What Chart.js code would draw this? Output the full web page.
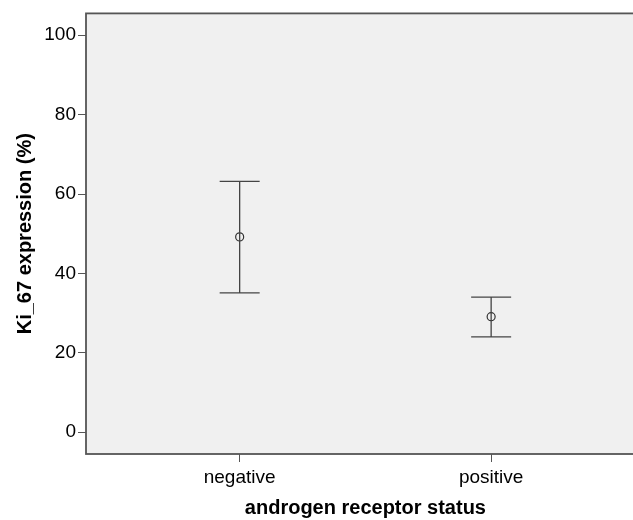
<!DOCTYPE html>
<html>
<head>
<meta charset="utf-8">
<script src="https://cdn.jsdelivr.net/npm/chart.js@4"></script>
<style>
  html, body { margin: 0; padding: 0; background: #fff; }
  #wrap { width: 633px; height: 520px; overflow: hidden; }
  #box { width: 650px; height: 520px; }
</style>
</head>
<body>
<div id="wrap"><div id="box"><canvas id="chart"></canvas></div></div>
<script>
const groups = ["negative", "positive"];
const means = [49.2, 29.1];
const upper = [63.2, 34.0];
const lower = [35.1, 24.0];
const yTicks = [0, 20, 40, 60, 80, 100];

const lineColor = "#444";

// plot background + frame
const frame = {
  id: "frame",
  beforeDraw(chart) {
    const { ctx, chartArea: a } = chart;
    ctx.save();
    ctx.fillStyle = "#f0f0f0";
    ctx.fillRect(a.left, a.top, a.right - a.left, a.bottom - a.top);
    ctx.strokeStyle = "#555";
    ctx.lineWidth = 1.8;
    ctx.strokeRect(a.left, a.top, a.right - a.left, a.bottom - a.top);
    ctx.restore();
  },
};

// error bars from the upper / lower arrays
const errorBars = {
  id: "errorBars",
  afterDatasetsDraw(chart) {
    const { ctx, scales } = chart;
    const x = scales.x, y = scales.y;
    ctx.save();
    ctx.strokeStyle = lineColor;
    ctx.lineWidth = 1.3;
    groups.forEach((g, i) => {
      const px = x.getPixelForValue(i + 1);
      const top = y.getPixelForValue(upper[i]);
      const bot = y.getPixelForValue(lower[i]);
      const cap = 20;
      ctx.beginPath();
      ctx.moveTo(px, top);
      ctx.lineTo(px, bot);
      ctx.moveTo(px - cap, top);
      ctx.lineTo(px + cap, top);
      ctx.moveTo(px - cap, bot);
      ctx.lineTo(px + cap, bot);
      ctx.stroke();
    });
    ctx.restore();
  },
};

const ctx = document.getElementById("chart").getContext("2d");
new Chart(ctx, {
  type: "scatter",
  data: {
    datasets: [
      {
        label: "mean",
        data: means.map((m, i) => ({ x: i + 1, y: m })),
        pointRadius: 4,
        pointHoverRadius: 4,
        pointBackgroundColor: "rgba(0,0,0,0)",
        borderColor: "#333",
        borderWidth: 1.2,
      },
    ],
  },
  options: {
    responsive: true,
    maintainAspectRatio: false,
    animation: false,
    layout: { padding: { top: 12, left: 0, right: 4, bottom: 0 } },
    plugins: {
      legend: { display: false },
      tooltip: { enabled: false },
    },
    scales: {
      x: {
        type: "linear",
        min: 0.389,
        max: 2.611,
        afterBuildTicks: (s) => { s.ticks = [{ value: 1 }, { value: 2 }]; },
        afterFit: (s) => { s.height = 66; },
        ticks: {
          callback: (v) => groups[v - 1],
          color: "#000",
          font: { family: "Liberation Sans, Arial", size: 19 },
          padding: 4,
          maxRotation: 0,
        },
        grid: { drawOnChartArea: false, tickLength: 8, color: "#555" },
        border: { display: false },
        title: {
          display: true,
          text: "androgen receptor status",
          color: "#000",
          font: { family: "Liberation Sans, Arial", size: 20, weight: "bold" },
          padding: { top: 4, bottom: 0 },
        },
      },
      y: {
        min: -5.5,
        max: 105.5,
        afterBuildTicks: (s) => { s.ticks = yTicks.map((v) => ({ value: v })); },
        afterFit: (s) => { s.width = 86; },
        ticks: {
          color: "#000",
          font: { family: "Liberation Sans, Arial", size: 19 },
          padding: 2,
        },
        grid: { drawOnChartArea: false, tickLength: 8, color: "#555" },
        border: { display: false },
        title: {
          display: true,
          text: "Ki_67 expression (%)",
          color: "#000",
          font: { family: "Liberation Sans, Arial", size: 20, weight: "bold" },
          padding: { top: 13, bottom: 0 },
        },
      },
    },
  },
  plugins: [frame, errorBars],
});
</script>
</body>
</html>
